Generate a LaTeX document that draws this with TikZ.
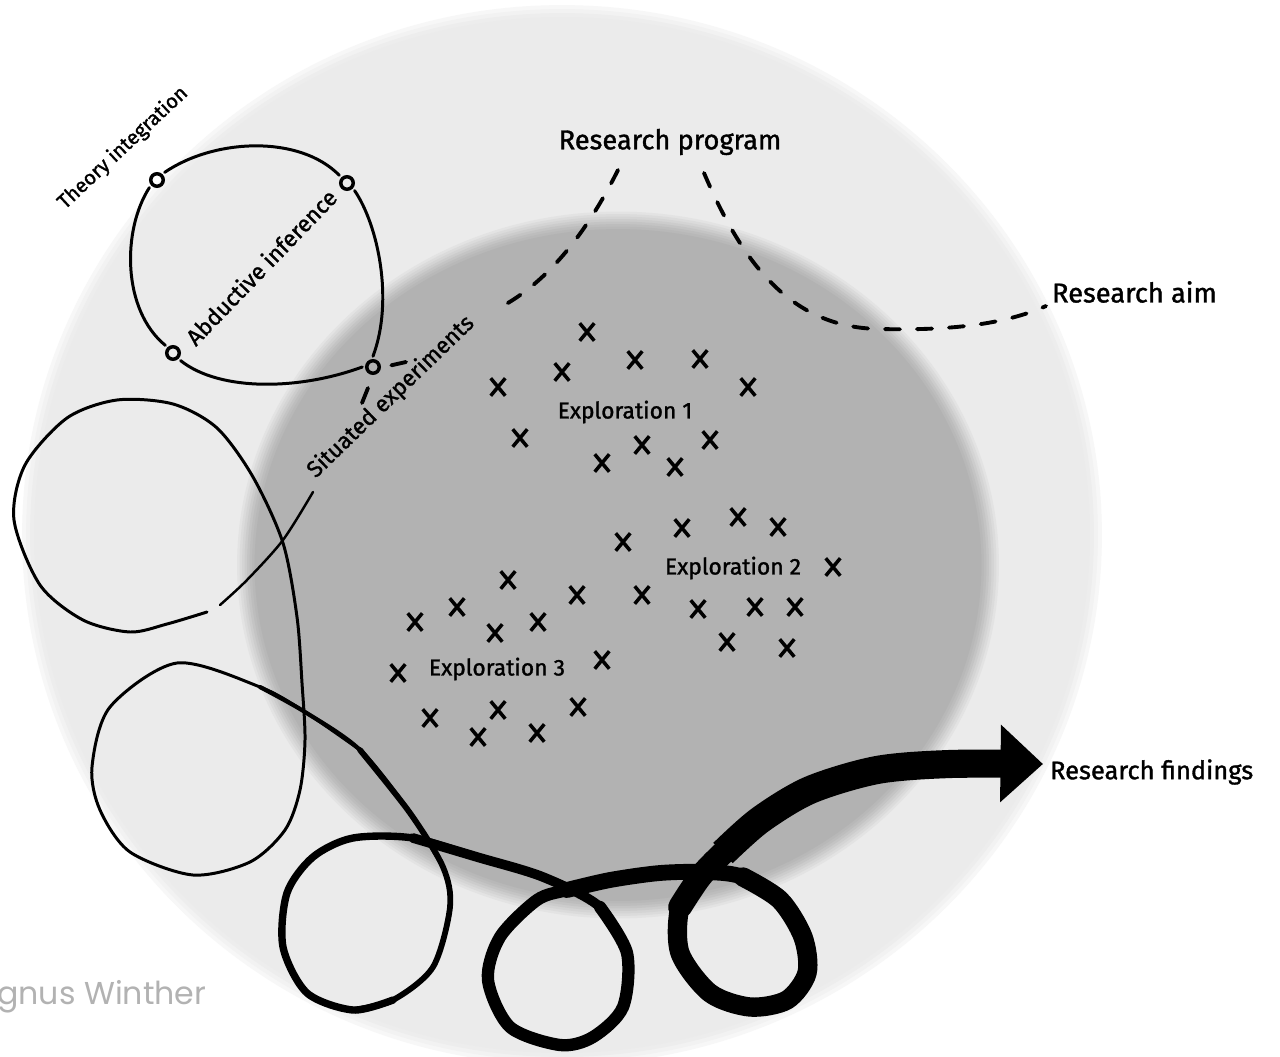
\documentclass[tikz,border=0pt]{standalone}
\usepackage{fontspec}
\setmainfont{Fira Sans}
\newfontfamily\handfont{Fira Sans}[FakeBold=1.3]
\newfontfamily\signfont{Poppins}
\usetikzlibrary{arrows.meta,shapes.misc}

\tikzset{
  ring/.style={circle, draw, line width=2pt, inner sep=0pt, minimum size=0.25cm, outer sep=0.09cm},
  loopline/.style={line width=1.7pt, line cap=round, line join=round},
  dashline/.style={line width=2.2pt, line cap=round, dash pattern=on 0.3cm off 0.34cm},
  xmark/.style={cross out, draw, line width=2pt, inner sep=0pt, minimum width=0.22cm, minimum height=0.28cm},
  biglabel/.style={inner sep=1pt, font=\handfont\fontsize{15.5}{18}\selectfont},
  findlabel/.style={inner sep=1pt, font=\handfont\fontsize{14.5}{18}\selectfont},
  midlabel/.style={inner sep=1pt, font=\handfont\fontsize{13}{15}\selectfont},
  smalllabel/.style={inner sep=1pt, font=\handfont\fontsize{11.5}{13}\selectfont},
}

\begin{document}
\begin{tikzpicture}[x=0.02cm, y=-0.02cm]
  \useasboundingbox (0,0) rectangle (1280,1057);
  \fill[white] (0,0) rectangle (1280,1057);
  % background discs, soft edges by stacked fills
  \foreach \k/\c in {0/3, 1/5, 2/7, 3/8}
    \fill[black!\c] (562,535) ellipse [x radius={10.8cm-\k*0.08cm}, y radius={10.6cm-\k*0.08cm}];
  \foreach \k/\c in {0/11, 1/14, 2/17, 3/20, 4/23, 5/26, 6/28, 7/30}
    \fill[black!\c] (618,565) ellipse [x radius={7.62cm-\k*0.05cm}, y radius={7.07cm-\k*0.05cm}];

  % labels
  \node[biglabel] (prog) at (670,142) {Research program};
  \node[biglabel, anchor=west] (aim) at (1050,292) {Research aim};
  \node[findlabel, anchor=west] (find) at (1048,772) {Research findings};
  \node[smalllabel, rotate=43] (theory) at (123,148) {Theory integration};
  \node[midlabel, rotate=46] (abd) at (261,267) {Abductive inference};
  \node[midlabel, rotate=44] (sit) at (391,397) {Situated experiments};
  \node[midlabel] (ex1) at (625,412) {Exploration 1};
  \node[midlabel] (ex2) at (733,568) {Exploration 2};
  \node[midlabel] (ex3) at (497,669) {Exploration 3};
  \node[anchor=west, inner sep=0pt, text=black!30, font=\signfont\fontsize{18}{21}\selectfont] (sign) at (-3,997) {gnus Winther};

  % ring markers of the abductive loop
  \node[ring] (ti) at (157,180) {};
  \node[ring] (ai) at (347,183) {};
  \node[ring] (ae) at (173,353) {};
  \node[ring] (se) at (373,367) {};

  % abductive loop
  \draw[loopline] (ti.north east) .. controls (215,138) and (300,135) .. (ai.north west);
  \draw[loopline] (ai.south east) .. controls (378,225) and (394,300) .. (se.north);
  \draw[loopline] (se.west) .. controls (300,390) and (220,392) .. (ae.south east);
  \draw[loopline] (ae.north west) .. controls (122,310) and (122,230) .. (ti.south west);

  % research program dashes
  \coordinate (pl) at (618,170);
  \coordinate (pr) at (704,173);
  \coordinate (pa) at (1046,306);
  \draw[dashline] (pl) .. controls (592,222) and (552,283) .. (493,311);
  \draw[dashline] (406,362) -- (se.east);
  \draw[line width=2.2pt, line cap=round] (368,388) -- (362,403);
  \draw[dashline] (pr) .. controls (742,262) and (790,328) .. (880,329)
    .. controls (960,331) and (1010,322) .. (pa);

  % explorations
  \foreach \px/\py [count=\i] in {
    587/332, 635/360, 700/359, 562/372, 498/387, 748/387, 520/438, 642/445,
    710/440, 602/463, 675/467, 738/517, 682/528, 778/527, 623/542, 833/567,
    508/580, 577/595, 642/595, 698/609, 755/607, 795/607, 457/607, 415/622,
    538/622, 495/633, 727/642, 787/648, 602/660, 398/673, 430/718, 498/710,
    578/707, 478/737, 537/733}
    \node[xmark] (x\i) at (\px,\py) {};

  % the winding path, getting thicker towards the findings
  \coordinate (start) at (313,492);
  \coordinate (tip) at (1043,764);
  \draw[line width=1.4pt, line cap=round] plot[smooth] coordinates {
    (start) (283,540) (247,580) (220,605)};
  \draw[loopline] plot[smooth] coordinates {
    (207,612) (167,624) (130,632) (83,620) (40,585) (14,520) (25,465)
    (67,418) (117,400) (173,404) (217,428) (253,477) (283,543) (297,617)
    (302,683) (305,740) (300,790) (285,830) (250,862) (193,875) (130,852)
    (100,810) (92,767) (110,707) (177,663) (260,687) (305,712) (360,750)};
  \draw[line width=2.4pt, line cap=round] plot[smooth] coordinates {
    (260,687) (305,712) (360,750) (410,813) (443,867)};
  \draw[line width=3.3pt, line cap=round] plot[smooth] coordinates {
    (360,750) (410,813) (443,867) (450,907) (433,967) (393,1000) (353,1010)};
  \draw[line width=4.2pt, line cap=round] plot[smooth] coordinates {
    (393,1000) (353,1010) (307,993) (283,947) (287,893) (313,857) (353,838)
    (413,838) (477,857)};
  \draw[line width=5.5pt, line cap=round] plot[smooth] coordinates {
    (413,838) (477,857) (543,877) (600,907) (627,953)};
  \draw[line width=7pt, line cap=round] plot[smooth] coordinates {
    (600,907) (627,953) (623,1007) (593,1037) (560,1045) (510,1027) (488,980)
    (500,937) (537,900) (567,890) (610,880)};
  \draw[line width=9pt, line cap=round] plot[smooth] coordinates {
    (567,890) (610,880) (660,873) (707,872) (743,877) (780,900)};
  \draw[line width=11pt, line cap=round] plot[smooth] coordinates {
    (743,877) (780,900) (803,937) (807,973) (787,1000) (750,1007) (710,993)
    (680,953) (680,907) (700,877)};
  \draw[line width=13.5pt, line cap=round] plot[smooth] coordinates {
    (680,907) (700,877) (723,853) (760,820) (810,790)};
  \draw[line width=16pt, -{Triangle[length=0.85cm, width=1.5cm]}] plot[smooth] coordinates {
    (723,853) (760,820) (810,790) (877,770) (950,764) (tip)};
\end{tikzpicture}
\end{document}
